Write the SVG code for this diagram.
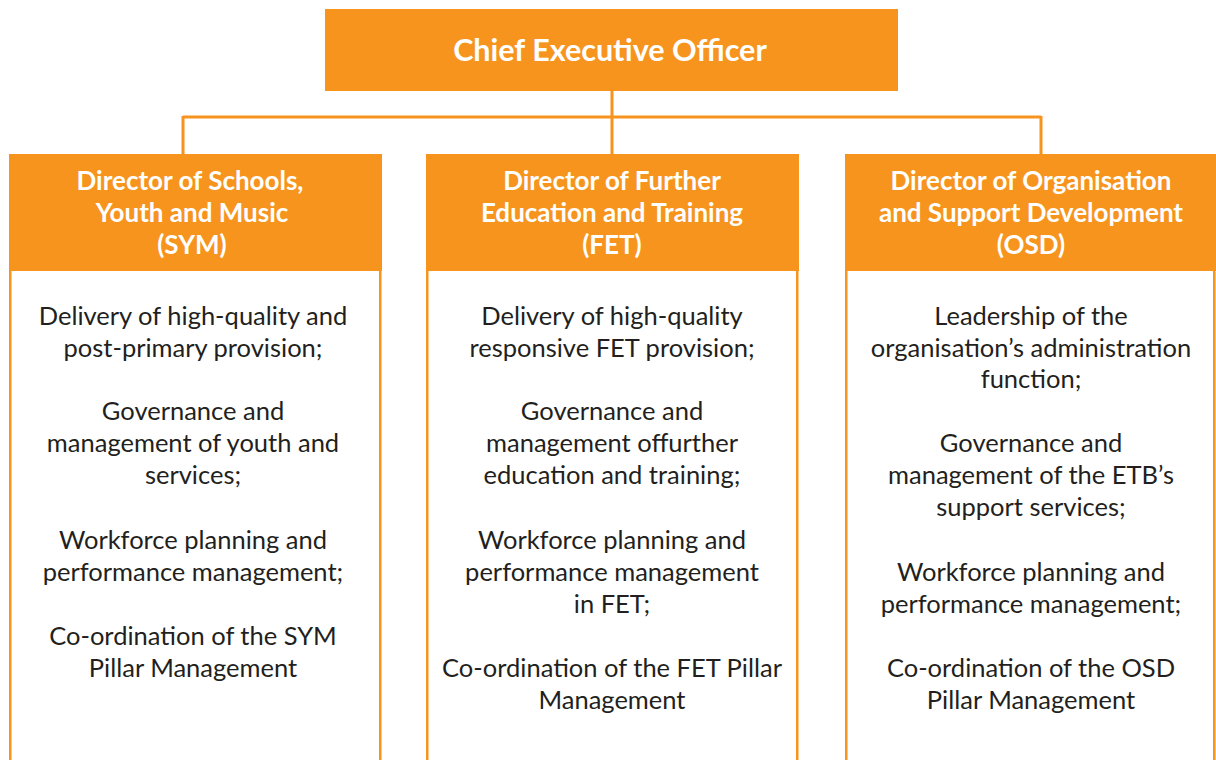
<svg xmlns="http://www.w3.org/2000/svg" width="1216" height="760" viewBox="0 0 1216 760">
<style>
.hdr{fill:#F7941D}
.body{fill:#fff;stroke:#F7941D;stroke-width:2.5}
.conn{stroke:#F7941D;stroke-width:3;fill:none}
.ht{font-family:Lato,"Open Sans",sans-serif;font-weight:bold;font-size:26px;fill:#fff;text-anchor:middle}
.bt{font-family:Lato,"Open Sans",sans-serif;font-size:25.5px;fill:#231F20;text-anchor:middle}
</style>
<rect width="1216" height="760" fill="#fff"/>
<g id="connectors">
<path class="conn" d="M612 91V154M183 117H1041M183 116V154M1041 116V154"/>
</g>
<g id="ceo">
<rect class="hdr" x="325" y="9" width="573" height="82"/>
<text class="ht" x="610" y="61" style="font-size:30.5px">Chief Executive Officer</text>
</g>
<g id="sym">
<rect class="body" x="10.25" y="200" width="370" height="600"/>
<rect class="hdr" x="9" y="154" width="373" height="117"/>
<text class="ht" x="190" y="190">Director of Schools,</text>
<text class="ht" x="192" y="222">Youth and Music</text>
<text class="ht" x="192" y="254">(SYM)</text>
<text class="bt" x="193" y="325">Delivery of high-quality and</text>
<text class="bt" x="193" y="357">post-primary provision;</text>
<text class="bt" x="193" y="420">Governance and</text>
<text class="bt" x="193" y="452">management of youth and</text>
<text class="bt" x="193" y="484">services;</text>
<text class="bt" x="193" y="549">Workforce planning and</text>
<text class="bt" x="193" y="581">performance management;</text>
<text class="bt" x="193" y="645">Co-ordination of the SYM</text>
<text class="bt" x="193" y="677">Pillar Management</text>
</g>
<g id="fet">
<rect class="body" x="427.25" y="200" width="370" height="600"/>
<rect class="hdr" x="426" y="154" width="373" height="117"/>
<text class="ht" x="612" y="190">Director of Further</text>
<text class="ht" x="612" y="222">Education and Training</text>
<text class="ht" x="612" y="254">(FET)</text>
<text class="bt" x="612" y="325">Delivery of high-quality</text>
<text class="bt" x="612" y="357">responsive FET provision;</text>
<text class="bt" x="612" y="420">Governance and</text>
<text class="bt" x="612" y="452">management offurther</text>
<text class="bt" x="612" y="484">education and training;</text>
<text class="bt" x="612" y="549">Workforce planning and</text>
<text class="bt" x="612" y="581">performance management</text>
<text class="bt" x="612" y="613">in FET;</text>
<text class="bt" x="612" y="677">Co-ordination of the FET Pillar</text>
<text class="bt" x="612" y="709">Management</text>
</g>
<g id="osd">
<rect class="body" x="846.25" y="200" width="368" height="600"/>
<rect class="hdr" x="845" y="154" width="371" height="117"/>
<text class="ht" x="1031" y="190">Director of Organisation</text>
<text class="ht" x="1031" y="222">and Support Development</text>
<text class="ht" x="1031" y="254">(OSD)</text>
<text class="bt" x="1031" y="325">Leadership of the</text>
<text class="bt" x="1031" y="357">organisation’s administration</text>
<text class="bt" x="1031" y="388">function;</text>
<text class="bt" x="1031" y="452">Governance and</text>
<text class="bt" x="1031" y="484">management of the ETB’s</text>
<text class="bt" x="1031" y="516">support services;</text>
<text class="bt" x="1031" y="581">Workforce planning and</text>
<text class="bt" x="1031" y="613">performance management;</text>
<text class="bt" x="1031" y="677">Co-ordination of the OSD</text>
<text class="bt" x="1031" y="709">Pillar Management</text>
</g>
</svg>
